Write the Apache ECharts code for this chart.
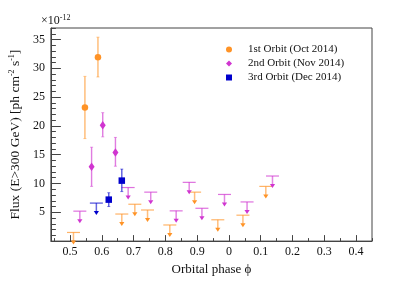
<!DOCTYPE html>
<html><head><meta charset="utf-8">
<script src="https://cdn.jsdelivr.net/npm/echarts@6/dist/echarts.min.js"></script>
<style>html,body{margin:0;padding:0;background:#fff}#c{width:416px;height:281px}</style>
</head><body><div id="c"></div>
<script>
// Orbital phase is unwrapped (values > 1 are shown as phase - 1 on the axis)
const o1Phase = [0.547, 0.588];
const o1Flux  = [23.2, 31.9];
const o1Lo    = [17.8, 28.5];
const o1Hi    = [28.6, 35.4];
const o1ULPhase = [0.511, 0.663, 0.704, 0.744, 0.814, 0.892, 0.965, 1.044, 1.116];
const o1UL      = [1.5, 4.7, 6.4, 5.4, 2.8, 8.5, 3.7, 4.5, 9.5];

const o2Phase = [0.568, 0.603, 0.643];
const o2Flux  = [12.9, 20.1, 15.4];
const o2Lo    = [9.5, 18.1, 13.0];
const o2Hi    = [16.3, 22.3, 18.0];
const o2ULPhase = [0.531, 0.683, 0.754, 0.834, 0.875, 0.915, 0.986, 1.057, 1.137];
const o2UL      = [5.2, 9.3, 8.5, 5.25, 10.2, 5.7, 8.1, 6.8, 11.3];

const o3Phase = [0.622, 0.663];
const o3Flux  = [7.2, 10.5];
const o3Lo    = [6.0, 8.6];
const o3Hi    = [8.4, 12.5];
const o3ULPhase = [0.583];
const o3UL      = [6.6];

const seriesNames = ['1st Orbit (Oct 2014)', '2nd Orbit (Nov 2014)', '3rd Orbit (Dec 2014)'];
const xMajor = [0.5, 0.6, 0.7, 0.8, 0.9, 1.0, 1.1, 1.2, 1.3, 1.4];
const xMinor = [0.45, 0.55, 0.65, 0.75, 0.85, 0.95, 1.05, 1.15, 1.25, 1.35, 1.45];
const yMajor = [5, 10, 15, 20, 25, 30, 35];
const yMinor = [1,2,3,4,6,7,8,9,11,12,13,14,16,17,18,19,21,22,23,24,26,27,28,29,31,32,33,34,36,37];

const FONT = 'Liberation Serif';
const colors = ['#ff9326', '#d035d0', '#0000cc'];

function zip(a, b, c) { return a.map((v, i) => c ? [v, b[i], c[i]] : [v, b[i]]); }

function errRender(params, api) {
  const x = api.value(0), lo = api.value(1), hi = api.value(2);
  const a = api.coord([x, lo]), b = api.coord([x, hi]);
  const c = api.visual('color');
  return { type: 'group', children: [
    { type: 'line', shape: { x1: a[0], y1: a[1], x2: b[0], y2: b[1] }, style: { stroke: c, lineWidth: 1.4, opacity: 0.65 } },
    { type: 'line', shape: { x1: a[0]-1.5, y1: a[1], x2: a[0]+1.5, y2: a[1] }, style: { stroke: c, lineWidth: 1, opacity: 0.5 } },
    { type: 'line', shape: { x1: b[0]-1.5, y1: b[1], x2: b[0]+1.5, y2: b[1] }, style: { stroke: c, lineWidth: 1, opacity: 0.5 } }
  ]};
}
function ulRender(params, api) {
  const p = api.coord([api.value(0), api.value(1)]);
  const c = api.visual('color');
  return { type: 'group', children: [
    { type: 'line', shape: { x1: p[0]-6.5, y1: p[1], x2: p[0]+6.5, y2: p[1] }, style: { stroke: c, lineWidth: 1.2, opacity: 0.7 } },
    { type: 'line', shape: { x1: p[0], y1: p[1], x2: p[0], y2: p[1]+8.5 }, style: { stroke: c, lineWidth: 1.5, opacity: 0.6 } },
    { type: 'polygon', shape: { points: [[p[0]-2.6, p[1]+8], [p[0]+2.6, p[1]+8], [p[0], p[1]+12]] }, style: { fill: c } }
  ]};
}

const chart = echarts.init(document.getElementById('c'), null, { renderer: 'canvas' });
const axTxt = { fontFamily: FONT, fontSize: 12, color: '#111' };
function fmtX(v) { let w = v >= 0.999 ? v - 1 : v; w = Math.round(w * 10) / 10; return w === 0 ? '0' : String(w); }

const series = [];
const det = [[o1Phase, o1Flux, o1Lo, o1Hi], [o2Phase, o2Flux, o2Lo, o2Hi], [o3Phase, o3Flux, o3Lo, o3Hi]];
const uls = [[o1ULPhase, o1UL], [o2ULPhase, o2UL], [o3ULPhase, o3UL]];
const symbols = ['circle', 'diamond', 'rect'];
const sizes = [6.5, [6, 8.5], 6.5];
for (let i = 0; i < 3; i++) {
  series.push({ type: 'custom', renderItem: ulRender, itemStyle: { color: colors[i] }, data: zip(uls[i][0], uls[i][1]), silent: true, z: 2 });
  series.push({ type: 'custom', renderItem: errRender, itemStyle: { color: colors[i] }, data: zip(det[i][0], det[i][2], det[i][3]), silent: true, z: 2 });
}
for (let i = 0; i < 3; i++) {
  series.push({ type: 'scatter', name: seriesNames[i], symbol: symbols[i], symbolSize: sizes[i], itemStyle: { color: colors[i], opacity: 1 }, data: zip(det[i][0], det[i][1]), z: 5 });
}

chart.setOption({
  animation: false,
  grid: { left: 43, right: 44, top: 28, bottom: 29, show: true, borderColor: '#444', borderWidth: 1 },
  legend: {
    orient: 'vertical', left: 221, top: 39, itemWidth: 6, itemHeight: 6, itemGap: 3,
    data: seriesNames, textStyle: { fontFamily: FONT, fontSize: 11, color: '#111', padding: [0, 0, 0, 11] },
    selectedMode: false
  },
  xAxis: [
    { type: 'value', min: 0.44, max: 1.45, splitLine: { show: false }, axisLine: { show: true, lineStyle: { color: '#444' } },
      axisTick: { inside: true, length: 6, customValues: xMajor, lineStyle: { color: '#444' } },
      axisLabel: { customValues: xMajor, formatter: fmtX, margin: 5, ...axTxt },
      name: 'Orbital phase \u03d5', nameLocation: 'middle', nameGap: 16,
      nameTextStyle: { fontFamily: FONT, fontSize: 13, color: '#111' } },
    { type: 'value', min: 0.44, max: 1.45, position: 'bottom', splitLine: { show: false }, axisLine: { show: false },
      axisTick: { inside: true, length: 3, customValues: xMinor, lineStyle: { color: '#444' } }, axisLabel: { show: false } }
  ],
  yAxis: [
    { type: 'value', min: 0, max: 37, splitLine: { show: false }, axisLine: { show: true, lineStyle: { color: '#444' } },
      axisTick: { inside: true, length: 10, customValues: yMajor, lineStyle: { color: '#444' } },
      axisLabel: { customValues: yMajor, margin: 6, ...axTxt },
      name: 'Flux (E>300 GeV) [ph cm{s|-2} s{s|-1}]', nameLocation: 'middle', nameGap: 22,
      nameTextStyle: { fontFamily: FONT, fontSize: 13.5, color: '#111', rich: { s: { fontFamily: FONT, fontSize: 8, padding: [0, 0, 6, 0], color: '#111' } } } },
    { type: 'value', min: 0, max: 37, position: 'left', splitLine: { show: false }, axisLine: { show: false },
      axisTick: { inside: true, length: 5, customValues: yMinor, lineStyle: { color: '#444' } }, axisLabel: { show: false } }
  ],
  graphic: [
    { type: 'text', left: 41, top: 14, style: { text: '\u00d710{s|-12}', fontFamily: FONT, fontSize: 12, fill: '#111',
      rich: { s: { fontFamily: FONT, fontSize: 8, padding: [0, 0, 6, 0], fill: '#111' } } } }
  ],
  series: series
});
</script></body></html>
